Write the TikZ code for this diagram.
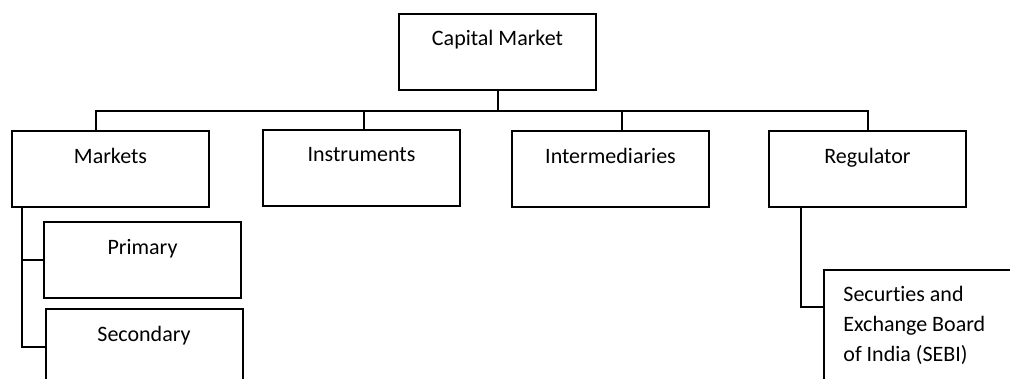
\documentclass[tikz,border=0pt]{standalone}
\usepackage{fontspec}
\setmainfont{Carlito}[Ligatures=NoCommon]
\usetikzlibrary{positioning}

\begin{document}
\begin{tikzpicture}[
    x=0.5pt, y=-0.5pt,
    every node/.style={font=\fontsize{11}{15}\selectfont},
    box/.style={draw, line width=1pt, inner sep=0pt, minimum width=98.5pt,
        text height=16pt, text depth=22pt, anchor=north},
    link/.style={line width=1pt}
]
\useasboundingbox (0,0) rectangle (1010,379);
\clip (0,0) rectangle (1010,379);

\node[box] (cap) at (497.5,13) {Capital Market};
\node[box] (mkt) at (110.5,130) {Markets};
\node[box] (ins) at (361.5,129) {Instruments};
\node[box] (itm) at (610.5,130) {Intermediaries};
\node[box] (reg) at (867.5,130) {Regulator};
\node[box] (pri) at (142.5,221) {Primary};
\node[box] (sec) at (144,308) {Secondary};
\node[draw, line width=1pt, anchor=north west, minimum width=110pt, minimum height=70pt]
    (sebi) at (823,269) {};
\node[anchor=north west, inner sep=0pt, align=left] (sebitxt) at (843,286)
    {Securties and\\Exchange Board\\of India (SEBI)};

\coordinate (bus) at (0,111);
\coordinate (spine) at ([xshift=5.5pt]mkt.south west);
\coordinate (sebiin) at (823,307);

\draw[link] (cap.south) -- (cap.south |- bus);
\draw[link] ([xshift=-7.25pt]mkt.north) |- (reg.north |- bus) -- (reg.north);
\draw[link] ([xshift=1.25pt]ins.north) -- ([xshift=1.25pt]ins.north |- bus);
\draw[link] ([xshift=5.75pt]itm.north) -- ([xshift=5.75pt]itm.north |- bus);

\draw[link] (spine) |- (sec.west);
\draw[link] (pri.west) -- (pri.west -| spine);
\draw[link] ([xshift=16.25pt]reg.south west) |- (sebiin);
\end{tikzpicture}
\end{document}
